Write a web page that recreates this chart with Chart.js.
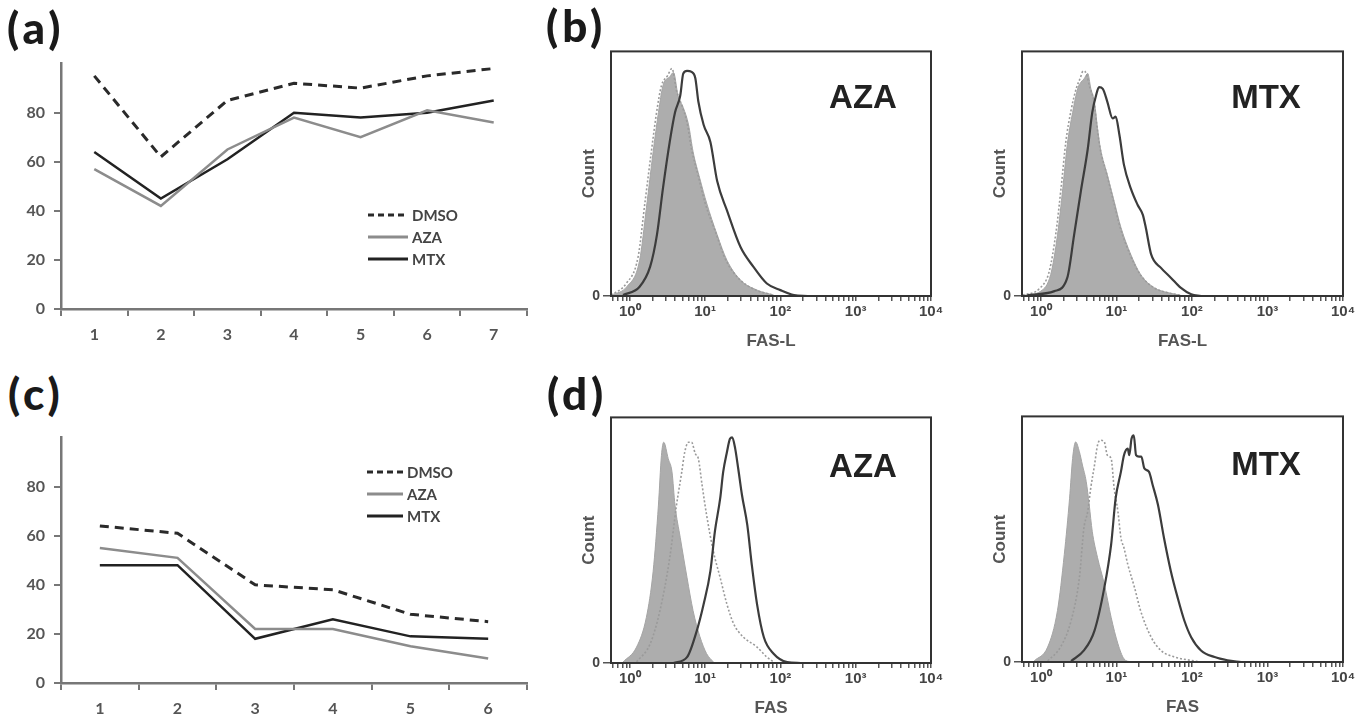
<!DOCTYPE html>
<html lang="en">
  <head>
    <meta charset="UTF-8" />
    <title>Viability and FAS / FAS-L expression</title>
    <script src="https://cdn.jsdelivr.net/npm/chart.js@4.4.1/dist/chart.umd.min.js"></script>
    <style>
      body { margin: 0; background: #fff; width: 1366px; height: 721px; overflow: hidden; position: relative; }
      canvas { position: absolute; }
      .tag { position: absolute; font: 900 44px Lato, sans-serif; color: #1a1a1a; letter-spacing: 4px; line-height: 1; }
      .big { position: absolute; font: bold 33px "Liberation Sans", Arial, sans-serif; color: #222; transform: translate(-50%, -50%); }
      .leg { position: absolute; font: bold 15px Lato, sans-serif; color: #444; }
      .leg div { height: 22px; display: flex; align-items: center; }
      .leg svg { margin-right: 4px; }
    </style>
  </head>
  <body>
    <canvas id="chartA" width="532" height="300" style="left:0;top:45px"></canvas>
    <canvas id="chartC" width="532" height="300" style="left:0;top:419px"></canvas>
    <canvas id="chartBA" width="376" height="316" style="left:575px;top:40px"></canvas>
    <canvas id="chartBM" width="377" height="316" style="left:986px;top:40px"></canvas>
    <canvas id="chartDA" width="376" height="317" style="left:575px;top:406px"></canvas>
    <canvas id="chartDM" width="377" height="317" style="left:986px;top:405px"></canvas>

    <div class="tag" style="left:7px;top:5px">(a)</div>
    <div class="tag" style="left:546px;top:3px">(b)</div>
    <div class="tag" style="left:8px;top:371px">(c)</div>
    <div class="tag" style="left:547px;top:371px">(d)</div>

    <div class="big" style="left:863px;top:97px">AZA</div>
    <div class="big" style="left:1266px;top:97px">MTX</div>
    <div class="big" style="left:863px;top:466px">AZA</div>
    <div class="big" style="left:1266px;top:464px">MTX</div>

    <div class="leg" id="legA" style="left:368px;top:204px"></div>
    <div class="leg" id="legC" style="left:367px;top:461px"></div>

    <script>
      // line charts (a) and (c)
      const catsA = ["1", "2", "3", "4", "5", "6", "7"];
      const dmsoA = [95, 62, 85, 92, 90, 95, 98];
      const azaA = [57, 42, 65, 78, 70, 81, 76];
      const mtxA = [64, 45, 61, 80, 78, 80, 85];

      const catsC = ["1", "2", "3", "4", "5", "6"];
      const dmsoC = [64, 61, 40, 38, 28, 25];
      const azaC = [55, 51, 22, 22, 15, 10];
      const mtxC = [48, 48, 18, 26, 19, 18];

      // histograms: [log10 intensity, % of max count]
      const decadeLabels = ["10⁰", "10¹", "10²", "10³", "10⁴"];

      const bAzaCtrl = [[-0.24,0.4],[-0.04,3.8],[0.13,14.6],[0.22,36],[0.31,59],[0.38,75],[0.44,86],[0.53,89.6],[0.58,91.4],[0.64,82],[0.71,77],[0.78,70],[0.84,59],[0.93,48],[1.02,38],[1.16,25],[1.29,14.6],[1.47,6.5],[1.69,2.4],[1.91,0.4]];
      const bAzaDmso = [[-0.25,0.4],[-0.05,5],[0.11,16],[0.2,38],[0.29,60],[0.36,76],[0.42,86],[0.5,90],[0.56,93],[0.62,84],[0.69,78],[0.76,71],[0.82,60],[0.91,49],[1.0,38],[1.14,26],[1.27,15],[1.45,7],[1.67,2.5],[1.9,0.4]];
      const bAzaDrug = [[-0.09,0.4],[0.13,3.8],[0.27,12],[0.36,25],[0.44,44],[0.53,63],[0.6,75],[0.67,82],[0.71,91],[0.76,92],[0.82,91.6],[0.87,89],[0.91,79.5],[0.98,70],[1.07,63],[1.16,47],[1.29,35],[1.47,20],[1.64,12],[1.82,5.1],[2.0,2.4],[2.18,0.4],[2.36,0]];

      const bMtxCtrl = [[-0.22,0.3],[0,2],[0.13,8.8],[0.22,25],[0.29,44],[0.35,62],[0.42,75],[0.49,85],[0.53,87.4],[0.57,88.7],[0.62,91],[0.66,85],[0.71,79],[0.75,68.5],[0.79,60],[0.88,49.5],[0.97,38.7],[1.06,28],[1.19,17],[1.32,8.8],[1.5,3.4],[1.68,1.4],[1.85,0.3]];
      const bMtxDmso = [[-0.24,0.3],[-0.02,3],[0.11,10],[0.2,26],[0.27,45],[0.33,63],[0.4,76],[0.47,85],[0.52,89],[0.56,92],[0.6,91],[0.65,85],[0.7,80],[0.74,70],[0.78,61],[0.87,50],[0.96,39],[1.05,28],[1.18,17],[1.31,9],[1.49,3.5],[1.67,1.4],[1.85,0.3]];
      const bMtxDrug = [[-0.18,0.3],[0.18,2],[0.35,7.5],[0.44,25],[0.53,43],[0.62,60],[0.68,75],[0.73,82],[0.77,85.4],[0.82,84.7],[0.88,79.4],[0.95,72.6],[0.99,73.3],[1.04,65.8],[1.1,53.6],[1.19,44],[1.28,37.3],[1.35,33.2],[1.39,27.8],[1.46,17],[1.59,11.5],[1.72,7.5],[1.85,3.4],[1.99,0.7],[2.12,0]];

      const dAzaCtrl = [[-0.09,0.4],[0.09,6.5],[0.22,18.6],[0.31,37.4],[0.38,64.3],[0.42,84.5],[0.45,89.9],[0.51,83.2],[0.56,77.8],[0.6,64.3],[0.67,51],[0.76,34.7],[0.84,21.3],[0.93,10.8],[1.02,3.8],[1.11,0.4]];
      const dAzaDmso = [[0.09,0.4],[0.27,7.8],[0.4,21.3],[0.53,42.8],[0.62,64.3],[0.69,77.8],[0.73,86],[0.78,89.9],[0.82,89.9],[0.87,85.2],[0.91,83.2],[0.96,72.4],[1.02,60.2],[1.11,45.4],[1.2,34.7],[1.29,23.9],[1.38,15.9],[1.51,10.5],[1.69,6.5],[1.82,2.4],[1.91,0.4]];
      const dAzaDrug = [[0.58,0],[0.76,2.4],[0.89,13.2],[0.98,23.9],[1.07,37.4],[1.13,53.6],[1.2,67],[1.24,77.8],[1.29,85.9],[1.33,91.3],[1.36,91.9],[1.4,87.2],[1.44,79.1],[1.49,68.3],[1.56,56.2],[1.62,40],[1.69,23.9],[1.78,10.5],[1.91,3.8],[2.09,0.4],[2.27,0]];

      const dMtxCtrl = [[-0.09,0.4],[0.09,6.1],[0.22,21],[0.31,43.8],[0.38,66.7],[0.42,82.9],[0.46,89.6],[0.51,85.6],[0.55,80.2],[0.6,73.5],[0.64,64],[0.68,53.2],[0.75,42.5],[0.84,31.7],[0.93,18.2],[1.02,7.4],[1.1,1.3],[1.19,0]];
      const dMtxDmso = [[0.09,0.4],[0.26,6.1],[0.4,16.8],[0.51,34.4],[0.57,54.6],[0.62,61.3],[0.66,70.8],[0.71,80.2],[0.75,88.3],[0.79,90.3],[0.84,89.6],[0.88,84.2],[0.93,82.9],[0.97,70.8],[1.02,61.3],[1.06,50.5],[1.1,46.5],[1.15,39.8],[1.24,30.3],[1.32,20.9],[1.46,10.1],[1.59,4.7],[1.77,2],[1.94,0.9],[2.12,0]];
      const dMtxDrug = [[0.4,0.4],[0.57,4.7],[0.71,12.8],[0.84,30.3],[0.93,47.8],[0.99,66.7],[1.06,77.5],[1.1,84.2],[1.15,86.9],[1.17,84.2],[1.2,90.9],[1.23,92.3],[1.26,84.2],[1.3,83.6],[1.33,83.6],[1.37,78.8],[1.43,77.5],[1.48,72.1],[1.55,64],[1.63,50.5],[1.72,37.1],[1.81,26.3],[1.9,16.8],[1.99,10.1],[2.12,4.7],[2.3,2],[2.47,0.7],[2.65,0]];

      const axisGrey = "#777";
      const tickFont = {family: "Lato", weight: "bold", size: 16};
      const flowFont = {family: "Liberation Sans", weight: "bold", size: 14};
      const flowTitleFont = {family: "Liberation Sans", weight: "bold", size: 17};

      function lineChart(id, cats, dmso, aza, mtx) {
        return new Chart(document.getElementById(id), {
          type: "line",
          data: {
            labels: cats,
            datasets: [
              {label: "DMSO", data: dmso, borderColor: "#2a2a2a", borderWidth: 3, borderDash: [9, 6]},
              {label: "AZA", data: aza, borderColor: "#8c8c8c", borderWidth: 2.5},
              {label: "MTX", data: mtx, borderColor: "#222", borderWidth: 2.5},
            ],
          },
          options: {
            responsive: false,
            animation: false,
            elements: {point: {radius: 0}, line: {tension: 0}},
            layout: {padding: {top: 10, right: 5}},
            plugins: {legend: {display: false}, tooltip: {enabled: false}},
            scales: {
              x: {
                offset: true,
                grid: {offset: true, drawOnChartArea: false, tickLength: 7, color: axisGrey, lineWidth: 2},
                border: {color: axisGrey, width: 2.5},
                ticks: {font: tickFont, color: "#555", padding: 9},
                afterFit: (s) => { s.height = 36; },
              },
              y: {
                min: 0,
                max: 100,
                grid: {drawOnChartArea: false, tickLength: 7, color: axisGrey, lineWidth: 2},
                border: {color: axisGrey, width: 2.5},
                ticks: {stepSize: 20, font: tickFont, color: "#555", padding: 9},
                afterBuildTicks: (s) => { s.ticks = s.ticks.filter((t) => t.value < 100); },
                afterFit: (s) => { s.width = 61; },
              },
            },
          },
        });
      }

      // box around the flow plot area
      const frame = {
        id: "frame",
        afterDatasetsDraw(chart) {
          const {ctx, chartArea: a} = chart;
          ctx.save();
          ctx.strokeStyle = "#333";
          ctx.lineWidth = 2;
          ctx.strokeRect(a.left, a.top, a.right - a.left, a.bottom - a.top);
          ctx.restore();
        },
      };

      function pts(arr) {
        return arr.map((p) => ({x: p[0], y: p[1]}));
      }

      function histChart(id, ctrl, dmso, drug, xTitle) {
        return new Chart(document.getElementById(id), {
          type: "line",
          data: {
            datasets: [
              {data: pts(drug), borderColor: "#3c3c3c", borderWidth: 2.2, fill: false},
              {data: pts(dmso), borderColor: "#9a9a9a", borderWidth: 1.6, borderDash: [2, 2], fill: false},
              {data: pts(ctrl), borderColor: "#a5a5a5", borderWidth: 1, backgroundColor: "#adadad", fill: "origin"},
            ],
          },
          options: {
            responsive: false,
            animation: false,
            elements: {point: {radius: 0}, line: {cubicInterpolationMode: "monotone"}},
            layout: {padding: {top: 9, right: 20}},
            plugins: {legend: {display: false}, tooltip: {enabled: false}},
            scales: {
              x: {
                type: "linear",
                min: -0.25,
                max: 4,
                grid: {drawOnChartArea: false, tickLength: 5, color: "#555", lineWidth: 1.5},
                border: {display: false},
                afterBuildTicks: (s) => {
                  const ticks = [];
                  for (let n = -1; n < 4; n++) {
                    for (let k = 1; k < 10; k++) {
                      const v = n + Math.log10(k);
                      if (v >= s.min && v <= s.max) ticks.push({value: v});
                    }
                  }
                  ticks.push({value: 4});
                  s.ticks = ticks;
                },
                ticks: {
                  autoSkip: false,
                  maxRotation: 0,
                  padding: 2,
                  color: "#444",
                  font: {family: "Liberation Sans", weight: "bold", size: 15},
                  callback: (v) => (Math.abs(v - Math.round(v)) < 1e-9 && v >= 0 ? decadeLabels[Math.round(v)] : ""),
                },
                title: {display: true, text: xTitle, color: "#555", font: flowTitleFont},
                afterFit: (s) => { s.height = 60; },
              },
              y: {
                min: 0,
                max: 100,
                grid: {drawOnChartArea: false, tickLength: 8, color: "#555", lineWidth: 1.5},
                border: {display: false},
                afterBuildTicks: (s) => { s.ticks = [{value: 0}]; },
                ticks: {padding: 3, color: "#444", font: flowFont},
                title: {display: true, text: "Count", color: "#555", font: flowTitleFont},
                afterFit: (s) => { s.width = 36; },
              },
            },
          },
          plugins: [frame],
        });
      }

      function buildLegend(id) {
        const rows = [
          {name: "DMSO", color: "#2a2a2a", dash: "6 4"},
          {name: "AZA", color: "#8c8c8c", dash: ""},
          {name: "MTX", color: "#222", dash: ""},
        ];
        const el = document.getElementById(id);
        const len = id === "legA" ? 40 : 36;
        rows.forEach((r) => {
          const row = document.createElement("div");
          row.innerHTML =
            '<svg width="' + len + '" height="6"><line x1="0" y1="3" x2="' + len + '" y2="3" stroke="' + r.color +
            '" stroke-width="3" stroke-dasharray="' + r.dash + '"/></svg><span>' + r.name + "</span>";
          el.appendChild(row);
        });
      }

      lineChart("chartA", catsA, dmsoA, azaA, mtxA);
      lineChart("chartC", catsC, dmsoC, azaC, mtxC);
      histChart("chartBA", bAzaCtrl, bAzaDmso, bAzaDrug, "FAS-L");
      histChart("chartBM", bMtxCtrl, bMtxDmso, bMtxDrug, "FAS-L");
      histChart("chartDA", dAzaCtrl, dAzaDmso, dAzaDrug, "FAS");
      histChart("chartDM", dMtxCtrl, dMtxDmso, dMtxDrug, "FAS");
      buildLegend("legA");
      buildLegend("legC");
    </script>
  </body>
</html>
